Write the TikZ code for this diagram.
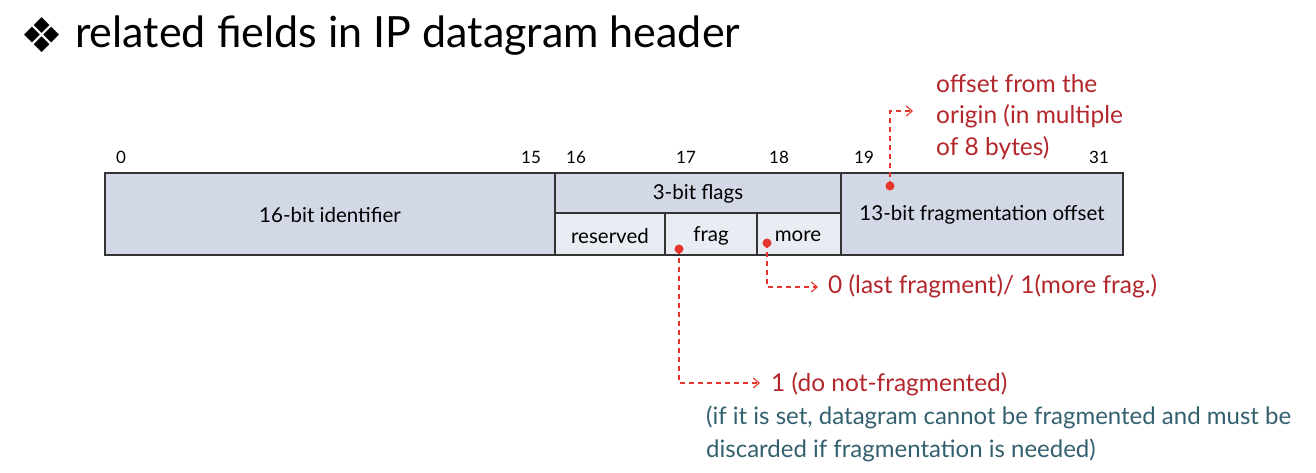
\documentclass[tikz,border=0pt]{standalone}
\usepackage{fontspec}
\setmainfont{Lato}
\newfontfamily\symfont{DejaVu Sans}
\usetikzlibrary{arrows.meta}
\definecolor{cellA}{HTML}{D2D8E6}
\definecolor{cellB}{HTML}{E9ECF3}
\definecolor{edge}{HTML}{333333}
\definecolor{redtxt}{HTML}{B3262B}
\definecolor{redln}{HTML}{E8352C}
\definecolor{tealtxt}{HTML}{33606F}
\tikzset{
  x=1pt,y=-1pt,
  cella/.style={draw=edge,line width=1.2pt,fill=cellA},
  cellb/.style={draw=edge,line width=1.2pt,fill=cellB},
  lbl/.style={font=\fontsize{20.5}{22}\selectfont,text=black,inner sep=0pt},
  num/.style={font=\fontsize{17}{19}\selectfont,text=black,inner sep=0pt},
  note/.style={font=\fontsize{24.5}{28}\selectfont,text=redtxt,inner sep=0pt,anchor=west},
  expl/.style={font=\fontsize{24}{28}\selectfont,text=tealtxt,inner sep=0pt,anchor=west},
  dot/.style={circle,fill=redln,inner sep=0pt,minimum size=9pt},
  ptr/.style={draw=redln,line width=1.1pt,dash pattern=on 5pt off 4pt,-{Straight Barb[length=6pt,width=10pt,line width=1.1pt]}}
}
\begin{document}
\begin{tikzpicture}
\useasboundingbox (0,0) rectangle (1316,472);
% title
\node[inner sep=0pt,anchor=west] (bullet) at (20,35) {\symfont\fontsize{48}{52}\selectfont ❖};
\node[inner sep=0pt,anchor=west] (title) at (75,36) {\fontsize{43}{48}\selectfont related fields in IP datagram header};
% cells
\draw[cella] (105,173) rectangle (555,255);
\draw[cella] (555,173) rectangle (841,213);
\draw[cellb] (555,213) rectangle (665,255);
\draw[cellb] (665,213) rectangle (757,255);
\draw[cellb] (757,213) rectangle (841,255);
\draw[cella] (841,173) rectangle (1123,255);
\node[lbl] (ident) at (330,215) {16-bit identifier};
\node[lbl] (flags) at (698,194) {3-bit flags};
\node[lbl] (res) at (610,236) {reserved};
\node[lbl] (frag) at (711,236) {frag};
\node[lbl] (more) at (798,236) {more};
\node[lbl] (offs) at (982,215) {13-bit fragmentation offset};
% bit numbers
\node[num] (n0) at (121,157) {0};
\node[num] (n15) at (531,157) {15};
\node[num] (n16) at (576,157) {16};
\node[num] (n17) at (686,157) {17};
\node[num] (n18) at (779,157) {18};
\node[num] (n19) at (864,157) {19};
\node[num] (n31) at (1099,157) {31};
% dots
\node[dot] (dfrag) at (679,249) {};
\node[dot] (dmore) at (767,243) {};
\node[dot] (doff) at (890,186) {};
% notes
\node[note] (toff) at (936,84) {offset from the};
\node[note] (toff2) at (936,116) {origin (in multiple};
\node[note] (toff3) at (936,148) {of 8 bytes)};
\node[note] (tmore) at (828,286) {0 (last fragment)/ 1(more frag.)};
\node[note] (tfrag) at (771,384) {1 (do not-fragmented)};
\node[expl] (texp) at (706,417) {(if it is set, datagram cannot be fragmented and must be};
\node[expl] (texp2) at (706,450) {discarded if fragmentation is needed)};
% pointers
\coordinate (eoff) at (913,111);
\coordinate (emore) at (818,287);
\coordinate (efrag) at (760,383);
\draw[ptr] (doff.center) |- (eoff);
\draw[ptr] (dmore.center) |- (emore);
\draw[ptr] (dfrag.center) |- (efrag);
\end{tikzpicture}
\end{document}
